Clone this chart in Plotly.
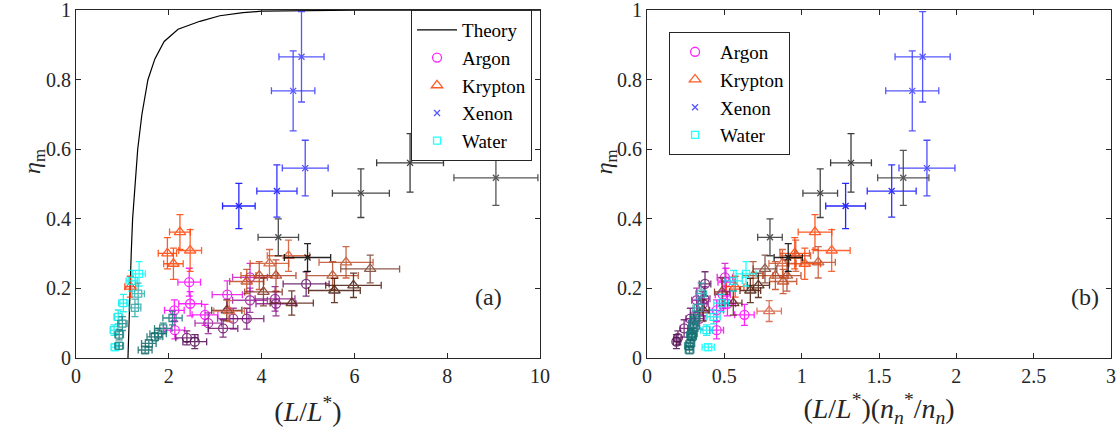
import plotly.graph_objects as go

# ---- theory curve (eta_m vs L/L*) ----
theory_x = [1.12, 1.13, 1.14, 1.16, 1.19, 1.22, 1.27, 1.33, 1.42, 1.55, 1.7, 1.9, 2.2, 2.67, 3.1, 3.6, 4.0, 5.0, 6.0, 10.0]
theory_y = [0.0, 0.05, 0.1, 0.2, 0.3, 0.4, 0.5, 0.6, 0.7, 0.8, 0.86, 0.91, 0.945, 0.968, 0.984, 0.993, 0.997, 0.999, 1.0, 1.0]

# ---- Argon ----
argon_x = [2.44, 2.46, 2.12, 2.13, 2.78, 3.26, 3.75, 2.85, 3.39, 3.17, 3.68, 3.75, 4.29, 4.31, 4.96, 2.39, 2.56]
argon_xs = [0.51, 0.52, 0.45, 0.45, 0.63, 0.49, 0.504, 0.30, 0.34, 0.24, 0.28, 0.321, 0.37, 0.36, 0.375, 0.20, 0.19]
argon_y = [0.218, 0.156, 0.137, 0.080, 0.124, 0.182, 0.232, 0.100, 0.113, 0.085, 0.113, 0.166, 0.170, 0.156, 0.213, 0.058, 0.047]
argon_ye = [0.04, 0.035, 0.03, 0.025, 0.03, 0.04, 0.04, 0.03, 0.03, 0.025, 0.03, 0.035, 0.035, 0.035, 0.035, 0.02, 0.02]
argon_c = ["#ff00ff", "#ff00ff", "#ff00ff", "#f010f0", "#ff00ff", "#e810e8", "#c818c8",
           "#a020a0", "#9a209a", "#701070", "#701070", "#9a209a", "#8a1a8a", "#8a1a8a", "#601060", "#601060", "#4e0c4e"]

# ---- Krypton ----
krypton_x = [2.24, 1.97, 2.46, 2.10, 1.17, 4.17, 4.58, 3.95, 4.31, 3.68, 4.04, 4.65, 3.25, 5.82, 5.53, 6.34, 5.98, 5.57, 3.30]
krypton_xs = [1.086, 0.955, 1.194, 1.02, 0.57, 0.876, 0.962, 0.83, 0.905, 0.88, 0.485, 0.558, 0.364, 1.107, 0.686, 0.763, 0.72, 0.668, 0.79]
krypton_y = [0.362, 0.301, 0.309, 0.271, 0.205, 0.272, 0.294, 0.237, 0.237, 0.220, 0.190, 0.158, 0.137, 0.275, 0.237, 0.256, 0.209, 0.194, 0.135]
krypton_ye = [0.05, 0.045, 0.06, 0.045, 0.03, 0.04, 0.045, 0.04, 0.045, 0.035, 0.04, 0.035, 0.03, 0.045, 0.04, 0.04, 0.035, 0.035, 0.03]
krypton_c = ["#ff4000", "#ff4000", "#ff4a10", "#ff4000", "#ff3000", "#d2552d", "#d2552d", "#c04a20", "#b04020",
             "#c04a20", "#803020", "#5a2010", "#5a2010", "#c0502a", "#b04a25", "#7a4030", "#4a1a0a", "#4a1a0a", "#d86040"]

# ---- Xenon ----
xenon_x = [4.68, 4.86, 4.94, 4.33, 3.51, 7.20, 9.05, 6.14, 4.36, 4.99]
xenon_xs = [1.715, 1.782, 1.81, 1.582, 1.284, 1.319, 1.657, 1.12, 0.795, 0.913]
xenon_y = [0.768, 0.866, 0.546, 0.480, 0.437, 0.561, 0.518, 0.474, 0.347, 0.289]
xenon_ye = [0.115, 0.13, 0.08, 0.075, 0.065, 0.084, 0.079, 0.07, 0.053, 0.04]
xenon_c = ["#3a3aff", "#3a3aff", "#3030ff", "#1010ff", "#0000ff", "#1a1a1a", "#3a3a3a", "#262626", "#303030", "#000000"]

# ---- Water ----
water_x = [1.36, 1.20, 1.02, 0.91, 0.82, 0.84, 1.34, 1.27, 1.00, 0.93, 0.93, 2.08, 1.88, 1.77, 1.70, 1.57, 1.49]
water_xs = [0.64, 0.56, 0.48, 0.43, 0.385, 0.396, 0.35, 0.33, 0.30, 0.285, 0.27, 0.31, 0.30, 0.295, 0.29, 0.28, 0.275]
water_y = [0.242, 0.222, 0.158, 0.118, 0.080, 0.031, 0.185, 0.144, 0.099, 0.067, 0.035, 0.115, 0.085, 0.070, 0.061, 0.042, 0.023]
water_ye = [0.035, 0.03, 0.025, 0.02, 0.015, 0.01, 0.03, 0.025, 0.02, 0.015, 0.01, 0.02, 0.015, 0.015, 0.012, 0.01, 0.01]
water_c = ["#00ffff", "#00f0f0", "#00f0f0", "#00e8e8", "#00f0f0", "#00ffff", "#30b0b0", "#30a8a8", "#208c8c",
           "#1a8080", "#1a8080", "#167878", "#167878", "#167070", "#167070", "#106868", "#106868"]

y_ticks = [0, 0.2, 0.4, 0.6, 0.8, 1]
y_tick_text = ["0", "0.2", "0.4", "0.6", "0.8", "1"]

XERR_FRAC = 0.10
FONT = "'Liberation Serif', 'Times New Roman', Times, serif"

gases = [
    ("Argon", argon_x, argon_xs, argon_y, argon_ye, argon_c, "circle-open", 9),
    ("Krypton", krypton_x, krypton_xs, krypton_y, krypton_ye, krypton_c, "triangle-up-open", 10),
    ("Xenon", xenon_x, xenon_xs, xenon_y, xenon_ye, xenon_c, "x-thin-open", 6),
    ("Water", water_x, water_xs, water_y, water_ye, water_c, "square-open", 7),
]

fig = go.Figure()

fig.add_trace(go.Scatter(x=theory_x, y=theory_y, mode="lines", line=dict(color="black", width=1.2),
                         name="Theory", xaxis="x", yaxis="y", legend="legend"))


def add_point(px, py, ye, col, sym, size, xa, ya, name, show, leg):
    fig.add_trace(go.Scatter(
        x=[px], y=[py], mode="markers", name=name, showlegend=show, legend=leg,
        xaxis=xa, yaxis=ya, opacity=0.85,
        marker=dict(symbol=sym, size=size, color=col, line=dict(color=col, width=1.3)),
        error_x=dict(type="data", array=[XERR_FRAC * px], color=col, thickness=1.3, width=3.5),
        error_y=dict(type="data", array=[ye], color=col, thickness=1.3, width=3.5),
    ))


for name, xl, xr, yy, ye, cc, sym, size in gases:
    for i in range(len(yy)):
        add_point(xl[i], yy[i], ye[i], cc[i], sym, size, "x", "y", name, i == 0, "legend")
        add_point(xr[i], yy[i], ye[i], cc[i], sym, size, "x2", "y2", name, i == 0, "legend2")

axis_style = dict(showline=True, linecolor="#262626", linewidth=1, mirror="ticks", ticks="inside",
                  ticklen=5, tickcolor="#262626", showgrid=False, zeroline=False,
                  ticklabeloverflow="allow", automargin=False,
                  tickfont=dict(family=FONT, size=20, color="#262626"))

title_font = dict(family=FONT, size=28, color="#262626")
ylabel_font = dict(family=FONT, size=24, color="#262626")
legend_font = dict(family=FONT, size=19, color="black")
ylabel = "<i>η</i><sub>m</sub>"

fig.update_layout(
    width=1119, height=428,
    margin=dict(l=76, r=8, t=10, b=70),
    paper_bgcolor="white", plot_bgcolor="white",
    font=dict(family=FONT, color="#262626"),
    xaxis=dict(domain=[0, 0.4483], range=[0, 10], dtick=2, anchor="y",
               title=dict(text="(<i>L</i>/<i>L</i><sup>*</sup>)", font=title_font),
               **axis_style),
    yaxis=dict(domain=[0, 1], range=[0, 1.0005], tickvals=y_ticks, ticktext=y_tick_text, anchor="x",
               **axis_style),
    xaxis2=dict(domain=[0.5517, 1], range=[0, 3], dtick=0.5, anchor="y2",
                title=dict(text="(<i>L</i>/<i>L</i><sup>*</sup>)(<i>n</i><sub><i>n</i></sub><sup>*</sup>/<i>n</i><sub><i>n</i></sub>)",
                           font=title_font),
                **axis_style),
    yaxis2=dict(domain=[0, 1], range=[0, 1.0005], tickvals=y_ticks, ticktext=y_tick_text, anchor="x2",
                **axis_style),
    legend=dict(x=0.3237, y=1, xanchor="left", yanchor="top", bgcolor="white", bordercolor="#262626",
                borderwidth=1, font=legend_font, tracegroupgap=0, itemwidth=40),
    legend2=dict(x=0.573, y=0.937, xanchor="left", yanchor="top", bgcolor="white", bordercolor="#262626",
                 borderwidth=1, font=legend_font, tracegroupgap=0, itemwidth=40),
    annotations=[
        dict(text=ylabel, x=-0.04, y=0.565, xref="paper", yref="paper", textangle=-90,
             xanchor="center", yanchor="middle", showarrow=False, font=ylabel_font),
        dict(text=ylabel, x=0.512, y=0.565, xref="paper", yref="paper", textangle=-90,
             xanchor="center", yanchor="middle", showarrow=False, font=ylabel_font),
        dict(text="(a)", x=8.89, y=0.175, xref="x", yref="y", showarrow=False,
             font=dict(family=FONT, size=24, color="#262626")),
        dict(text="(b)", x=2.83, y=0.175, xref="x2", yref="y2", showarrow=False,
             font=dict(family=FONT, size=24, color="#262626")),
    ],
)

fig.write_html("out.html")
